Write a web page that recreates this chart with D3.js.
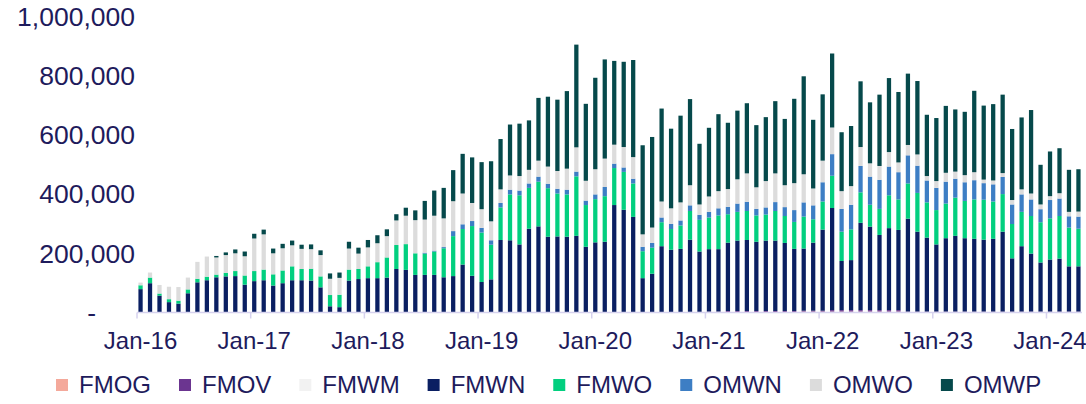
<!DOCTYPE html>
<html>
<head>
<meta charset="utf-8">
<script src="https://cdn.jsdelivr.net/npm/d3@7"></script>
<style>
  body { margin: 0; background: #fff; }
  svg text { font-family: "Liberation Sans", Arial, sans-serif; fill: #1e1b5c; }
</style>
</head>
<body>
<div id="app"><svg class="chart"></svg></div>
<script>
//======
// Data
//======

// monthly, Jan-16 .. Apr-24, values in thousands
var months = d3.timeMonth.range(new Date(2016, 0, 1), new Date(2024, 4, 1));

var seriesNames = ["FMOG", "FMOV", "FMWM", "FMWN", "FMWO", "OMWN", "OMWO", "OMWP"];
var seriesColors = ["#f4a99b", "#6b3590", "#f2f2f2", "#0a1f62", "#02cf7f", "#3d7ec4", "#dcdcdc", "#06494b"];

var xTickLabels = ["Jan-16", "Jan-17", "Jan-18", "Jan-19", "Jan-20", "Jan-21", "Jan-22", "Jan-23", "Jan-24"];
var yTickValues = [0, 200000, 400000, 600000, 800000, 1000000];

var FMOG = [
  0, 0, 0, 0, 0, 0, 0, 0, 0, 0, 0, 0,
  0, 0, 0, 0, 0, 0, 0, 0, 0, 0, 0, 0,
  0, 0, 0, 1, 1, 1, 1, 1, 1, 1, 1, 1,
  1, 1, 1, 1, 1, 1, 1, 1, 1, 1, 1, 1,
  1, 1, 1, 1, 1, 1, 1, 1, 1, 1, 1, 1,
  2, 2, 2, 2, 2, 2, 2, 2, 2, 2, 3, 3,
  3, 3, 3, 3, 3, 3, 3, 3, 3, 1, 1, 1,
  1, 1, 1, 1, 1, 1, 1, 1, 1, 1, 1, 1,
  1, 1, 1, 1
];
var FMOV = [
  0, 0, 0, 0, 0, 0, 0, 0, 0, 0, 0, 0,
  0, 0, 0, 0, 0, 0, 0, 0, 0, 0, 0, 0,
  0, 0, 0, 0, 0, 0, 0, 0, 0, 0, 0, 0,
  0, 0, 0, 0, 0, 0, 0, 0, 0, 0, 0, 0,
  0, 0, 0, 0, 0, 0, 0, 0, 0, 0, 1, 1,
  1, 1, 3, 3, 3, 3, 3, 3, 3, 3, 3, 3,
  3, 5, 5, 5, 5, 5, 5, 5, 5, 2, 2, 2,
  2, 2, 2, 2, 2, 2, 2, 2, 2, 2, 2, 2,
  2, 2, 2, 2
];
var FMWM = [
  0, 0, 0, 0, 0, 0, 0, 0, 0, 0, 0, 0,
  0, 0, 0, 0, 0, 0, 0, 0, 0, 0, 0, 0,
  0, 0, 0, 0, 0, 0, 0, 0, 0, 0, 0, 0,
  0, 0, 0, 0, 0, 0, 0, 0, 0, 0, 0, 0,
  0, 0, 0, 0, 0, 0, 0, 0, 0, 0, 0, 0,
  0, 0, 0, 0, 0, 0, 0, 0, 0, 0, 0, 0,
  0, 0, 0, 0, 0, 0, 0, 0, 0, 0, 0, 0,
  0, 0, 0, 0, 0, 0, 0, 0, 0, 0, 0, 0,
  0, 0, 0, 0
];
var FMWN = [
  79, 99, 57, 35, 30, 65, 102, 109, 119, 122, 123, 94,
  106, 109, 91, 99, 109, 109, 108, 85, 21, 18, 108, 113,
  116, 116, 118, 146, 143, 126, 126, 126, 118, 122, 161, 123,
  102, 111, 244, 243, 229, 282, 290, 255, 256, 255, 258, 221,
  236, 238, 362, 346, 322, 115, 130, 223, 211, 214, 244, 204,
  211, 211, 231, 238, 240, 234, 238, 238, 230, 210, 210, 230,
  274, 345, 166, 169, 295, 282, 254, 277, 271, 314, 270, 250,
  227, 248, 256, 248, 246, 243, 246, 270, 180, 221, 196, 166,
  176, 179, 153, 153
];
var FMWO = [
  13, 19, 7, 10, 10, 13, 12, 12, 9, 12, 17, 31,
  34, 36, 38, 43, 47, 38, 40, 37, 38, 42, 37, 34,
  40, 54, 68, 81, 87, 73, 72, 79, 98, 135, 120, 168,
  167, 117, 110, 155, 166, 138, 151, 164, 145, 143, 201, 141,
  146, 154, 125, 128, 113, 91, 88, 81, 70, 79, 97, 107,
  107, 114, 96, 97, 98, 89, 88, 100, 91, 91, 108, 79,
  95, 109, 99, 104, 103, 74, 88, 111, 103, 119, 131, 119,
  116, 117, 129, 126, 133, 135, 126, 127, 116, 116, 127, 136,
  139, 144, 131, 127
];
var OMWN = [
  0, 0, 0, 0, 0, 0, 0, 0, 0, 0, 0, 0,
  0, 0, 0, 0, 0, 0, 0, 0, 0, 0, 0, 0,
  0, 0, 0, 0, 0, 0, 3, 3, 4, 17, 16, 17,
  16, 15, 15, 16, 16, 15, 17, 15, 16, 16, 16, 15,
  16, 31, 15, 15, 16, 15, 16, 16, 17, 17, 19, 17,
  19, 24, 25, 28, 31, 22, 24, 30, 30, 40, 48, 47,
  65, 73, 77, 83, 89, 95, 98, 97, 92, 95, 92, 74,
  75, 74, 64, 63, 65, 56, 58, 58, 66, 59, 56, 44,
  62, 59, 38, 41
];
var OMWO = [
  9, 17, 29, 42, 46, 40, 57, 68, 58, 60, 60, 65,
  110, 119, 71, 75, 71, 68, 66, 72, 55, 57, 71, 52,
  64, 64, 72, 83, 96, 112, 112, 118, 97, 101, 104, 61,
  63, 64, 46, 48, 49, 46, 54, 58, 60, 71, 82, 67,
  85, 96, 64, 69, 73, 42, 52, 54, 53, 61, 68, 35,
  52, 58, 60, 82, 96, 73, 89, 97, 74, 91, 95, 57,
  73, 90, 60, 63, 64, 45, 47, 49, 33, 35, 38, 15,
  23, 30, 24, 24, 27, 12, 13, 13, 15, 17, 20, 16,
  13, 18, 15, 17
];
var OMWP = [
  0, 0, 0, 0, 0, 0, 0, 0, 5, 9, 13, 16,
  16, 16, 16, 15, 16, 14, 16, 16, 18, 18, 23, 20,
  25, 27, 23, 21, 27, 33, 63, 85, 103, 105, 134, 154,
  159, 203, 170, 172, 177, 167, 212, 236, 241, 262, 347, 260,
  309, 335, 283, 288, 328, 301, 306, 314, 269, 293, 291, 205,
  232, 260, 224, 232, 237, 210, 216, 244, 224, 285, 331, 232,
  224, 250, 199, 203, 222, 206, 241, 250, 238, 241, 248, 207,
  213, 226, 210, 214, 275, 250, 258, 265, 240, 243, 282, 134,
  151, 152, 142, 143
];

var seriesValues = [FMOG, FMOV, FMWM, FMWN, FMWO, OMWN, OMWO, OMWP];

//=======
// Chart
//=======

function buildChart() {
  var width = 1086,
    height = 404,
    left = 137,
    right = 1082,
    baseY = 312.5,
    topY = 16.5;

  // rows for d3.stack
  var rows = months.map(function(m, i) {
    var row = { month: m };
    seriesNames.forEach(function(name, k) {
      row[name] = seriesValues[k][i] * 1000;
    });
    return row;
  });

  var stacked = d3.stack().keys(seriesNames)(rows);

  var svg = d3.select(".chart")
    .attr("width", width)
    .attr("height", height);

  var x = d3.scaleBand()
    .domain(months)
    .range([left, right])
    .paddingInner(0.55)
    .paddingOuter(0.15);

  var y = d3.scaleLinear()
    .domain([0, 1000000])
    .range([baseY, topY]);

  // bars
  svg.append("g")
    .selectAll("g")
    .data(stacked)
    .enter()
    .append("g")
    .attr("fill", function(d, i) { return seriesColors[i]; })
    .selectAll("rect")
    .data(function(d) { return d; })
    .enter()
    .append("rect")
    .attr("x", function(d) { return x(d.data.month); })
    .attr("width", x.bandwidth())
    .attr("y", function(d) { return y(d[1]); })
    .attr("height", function(d) { return y(d[0]) - y(d[1]); });

  // y labels (no axis line)
  var fmt = d3.format(",");
  svg.append("g")
    .selectAll("text")
    .data(yTickValues)
    .enter()
    .append("text")
    .attr("x", function(d) { return d === 0 ? 96 : 135; })
    .attr("y", function(d) { return y(d); })
    .attr("dy", "0.35em")
    .attr("text-anchor", "end")
    .style("font-size", "26.5px")
    .text(function(d) { return d === 0 ? "-" : fmt(d); });

  // x axis
  var janMonths = months.filter(function(m) { return m.getMonth() === 0; });
  var tickX = function(m) { return x(m) - x.step() * x.paddingOuter(); };

  var xAxis = svg.append("g").attr("class", "axis");
  xAxis.append("line")
    .attr("x1", left).attr("x2", right)
    .attr("y1", baseY).attr("y2", baseY)
    .attr("stroke", "#d6d2ee")
    .attr("stroke-width", 1.5);

  xAxis.selectAll(".tick")
    .data(janMonths)
    .enter()
    .append("line")
    .attr("class", "tick")
    .attr("x1", tickX).attr("x2", tickX)
    .attr("y1", baseY).attr("y2", baseY + 6)
    .attr("stroke", "#d6d2ee")
    .attr("stroke-width", 1.5);

  xAxis.selectAll("text")
    .data(janMonths)
    .enter()
    .append("text")
    .attr("x", function(m) { return x(m) + x.bandwidth() / 2; })
    .attr("y", 349)
    .attr("text-anchor", "middle")
    .style("font-size", "24px")
    .text(function(m, i) { return xTickLabels[i]; });

  // legend
  var legend = svg.append("g").attr("class", "legend");
  var lx = 56;
  seriesNames.forEach(function(name, i) {
    legend.append("rect")
      .attr("x", lx).attr("y", 379)
      .attr("width", 12).attr("height", 12)
      .attr("fill", seriesColors[i]);
    var t = legend.append("text")
      .attr("x", lx + 23).attr("y", 393)
      .style("font-size", "24px")
      .text(name);
    lx += 23 + t.node().getComputedTextLength() + 28;
  });
}

buildChart();
</script>
</body>
</html>
